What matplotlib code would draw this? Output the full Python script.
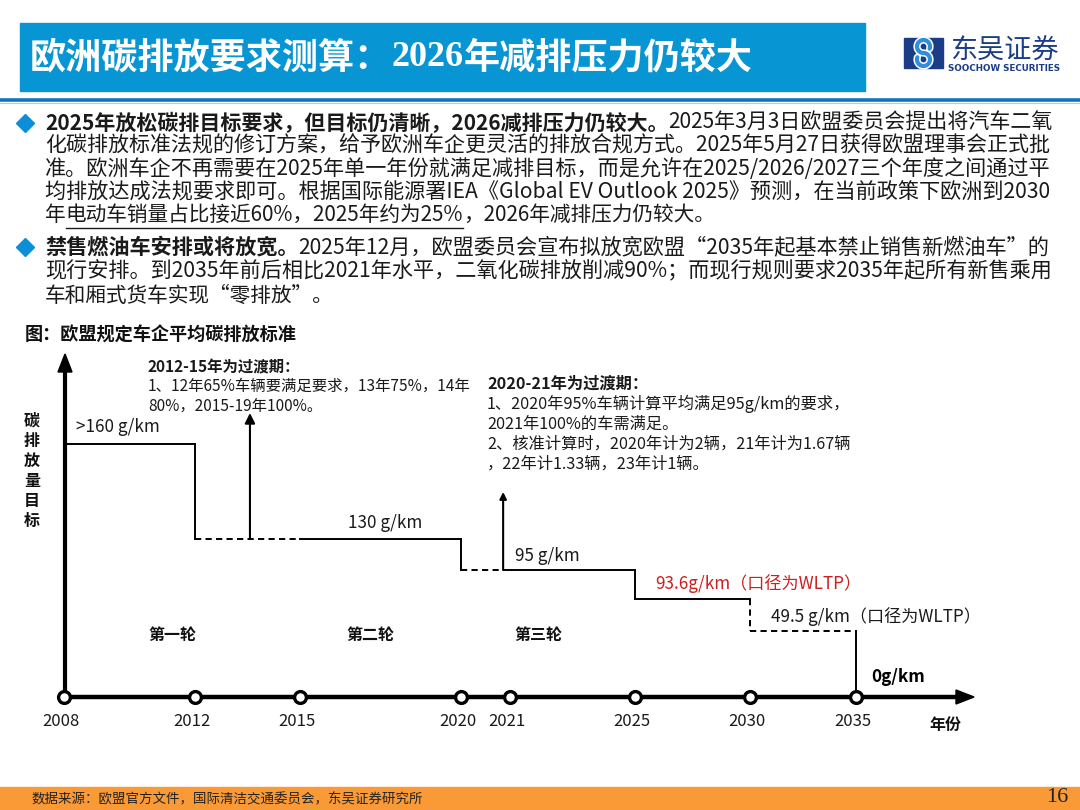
import numpy as np
import matplotlib
matplotlib.use('Agg')
import matplotlib.pyplot as plt
from matplotlib.patches import Rectangle, Polygon

plt.rcParams['font.family'] = ['Noto Sans CJK SC', 'DejaVu Sans']
plt.rcParams['axes.unicode_minus'] = False

# ---------------- data ----------------
milestone_years = [2008, 2012, 2015, 2020, 2021, 2025, 2030, 2035]

# horizontal step segments of the EU fleet-average CO2 target (g/km)
seg_start = [2008, 2012, 2015, 2020, 2021, 2025, 2030]
seg_end = [2012, 2015, 2020, 2021, 2025, 2030, 2035]
seg_level = [160, 130, 130, 95, 95, 93.6, 49.5]
seg_dashed = [False, True, False, True, False, False, True]

# vertical drops between levels
drop_year = [2012, 2020, 2025, 2030, 2035]
drop_from = [160, 130, 95, 93.6, 49.5]
drop_to = [130, 95, 93.6, 49.5, 0]
drop_dashed = [False, False, False, True, False]

level_labels = ['>160 g/km', '130 g/km', '95 g/km',
                '93.6g/km（口径为WLTP）', '49.5 g/km（口径为WLTP）', '0g/km']
label_years = [2008, 2015, 2021, 2025, 2030, 2035]
label_values = [160, 130, 95, 93.6, 49.5, 0]
label_colors = ['#1a1a1a', '#1a1a1a', '#1a1a1a', '#CC1F1F', '#1a1a1a', '#000000']
label_bold = [False, False, False, False, False, True]

transition_years = [2013.57, 2020.86]
transition_base = [130, 95]

round_labels = ['第一轮', '第二轮', '第三轮']

title = ['欧洲碳排放要求测算：', '2026', '年减排压力仍较大']

body_lines = [
    [('2025年放松碳排目标要求，但目标仍清晰，2026减排压力仍较大。', True, False),
     ('2025年3月3日欧盟委员会提出将汽车二氧', False, False)],
    [('化碳排放标准法规的修订方案，给予欧洲车企更灵活的排放合规方式。2025年5月27日获得欧盟理事会正式批', False, False)],
    [('准。欧洲车企不再需要在2025年单一年份就满足减排目标，而是允许在2025/2026/2027三个年度之间通过平', False, False)],
    [('均排放达成法规要求即可。根据国际能源署IEA《Global EV Outlook 2025》预测，在当前政策下欧洲到2030', False, False)],
    [('年', False, False), ('电动车销量占比接近60%，2025年约为25%', False, True),
     ('，2026年减排压力仍较大。', False, False)],
    [('禁售燃油车安排或将放宽。', True, False),
     ('2025年12月，欧盟委员会宣布拟放宽欧盟“2035年起基本禁止销售新燃油车”的', False, False)],
    [('现行安排。到2035年前后相比2021年水平，二氧化碳排放削减90%；而现行规则要求2035年起所有新售乘用', False, False)],
    [('车和厢式货车实现“零排放”。', False, False)],
]
body_full = [True, True, True, True, False, True, True, False]

note1 = ['2012-15年为过渡期：', '1、12年65%车辆要满足要求，13年75%，14年', '80%，2015-19年100%。']
note2 = ['2020-21年为过渡期：', '1、2020年95%车辆计算平均满足95g/km的要求，',
         '2021年100%的车需满足。', '2、核准计算时，2020年计为2辆，21年计为1.67辆',
         '，22年计1.33辆，23年计1辆。']

subtitle = '图：欧盟规定车企平均碳排放标准'
ylabel = '碳排放量目标'
xlabel = '年份'
source = '数据来源：欧盟官方文件，国际清洁交通委员会，东吴证券研究所'
page_no = '16'

# ---------------- schematic scale (layout, pixels) ----------------
x_anchor_px = [64, 195, 300, 461, 510, 635, 750, 856]
y_anchor_vals = [0, 49.5, 93.6, 95, 130, 160]
y_anchor_px = [113, 179, 211, 240, 271, 366]   # height above figure bottom


def piecewise(xp, fp):
    xp = np.asarray(xp, float)
    fp = np.asarray(fp, float)
    s0 = (fp[1] - fp[0]) / (xp[1] - xp[0])
    s1 = (fp[-1] - fp[-2]) / (xp[-1] - xp[-2])

    def f(x):
        x = np.asarray(x, float)
        y = np.interp(x, xp, fp)
        y = np.where(x < xp[0], fp[0] + (x - xp[0]) * s0, y)
        y = np.where(x > xp[-1], fp[-1] + (x - xp[-1]) * s1, y)
        return y
    return f


fx, fx_inv = piecewise(milestone_years, x_anchor_px), piecewise(x_anchor_px, milestone_years)
fy, fy_inv = piecewise(y_anchor_vals, y_anchor_px), piecewise(y_anchor_px, y_anchor_vals)

W, H = 1080, 810
fig = plt.figure(figsize=(10.8, 8.1), dpi=100)
fig.patch.set_facecolor('white')

# overlay axes in pixel coordinates
ax0 = fig.add_axes([0, 0, 1, 1])
ax0.set_xlim(0, W)
ax0.set_ylim(H, 0)
ax0.axis('off')
renderer = fig.canvas.get_renderer()

# header bar
ax0.add_patch(Rectangle((20, 23), 845, 68, color='#0895D4', zorder=1))
x = 30
for i, piece in enumerate(title):
    fam = ['Liberation Serif'] if i == 1 else ['Noto Sans CJK SC', 'DejaVu Sans']
    t = ax0.text(x, 58, piece, color='white', fontsize=26.0, fontweight='bold',
                 family=fam, va='center', ha='left', zorder=3)
    x += t.get_window_extent(renderer).width

# header rule
ax0.plot([0, W], [100, 100], color='#1173C2', lw=2.6, solid_capstyle='butt', zorder=2)
ax0.plot([0, W], [103, 103], color='#A9CCEB', lw=0.8, zorder=2)

# logo
ax0.add_patch(Rectangle((904, 38), 39, 30, color='#1B3C86', zorder=2))
a1 = np.radians(np.linspace(-20, 270, 40))
a2 = np.radians(np.linspace(90, -200, 40))
sx = np.concatenate([923.5 + 6.5 * np.cos(a1), 923.5 + 6.5 * np.cos(a2)])
sy = np.concatenate([46.5 - 6.5 * np.sin(a1), 59.5 - 6.5 * np.sin(a2)])
ax0.plot(sx, sy, color='white', lw=5.2, solid_capstyle='round', zorder=3)
ax0.plot(sx, sy, color='#2F8FDA', lw=3.0, solid_capstyle='round', zorder=4)
ax0.text(1004, 51, '东吴证券', color='#1B3C86', fontsize=19.5, ha='center', va='center', zorder=3)
ax0.text(1004, 68.5, 'SOOCHOW SECURITIES', color='#1B3C86', fontsize=6.3, fontweight='bold',
         family=['DejaVu Sans'], ha='center', va='center', zorder=3)


def runs_width(runs, size):
    total = 0.0
    for txt, bold, _ in runs:
        t = ax0.text(0, 0, txt, fontsize=size, fontweight='bold' if bold else 'normal')
        total += t.get_window_extent(renderer).width
        t.remove()
    return total


# bullets / body text
body_y = [123, 146, 169, 192, 215, 247, 271, 296]
body_size = 14.9
text_left, text_right = 45, 1048
for yy in (body_y[0], body_y[5]):
    ax0.plot(25, yy, marker='D', ms=9, color='#0A8FD8', zorder=3)
for yy, runs, full in zip(body_y, body_lines, body_full):
    size = body_size
    if full:
        size = body_size * (text_right - text_left) / runs_width(runs, body_size)
    x = text_left
    for txt, bold, under in runs:
        t = ax0.text(x, yy, txt, fontsize=size, fontweight='bold' if bold else 'normal',
                     color='#1a1a1a', va='center', ha='left', zorder=3)
        w = t.get_window_extent(renderer).width
        if under:
            ax0.plot([x, x + w], [yy + 13, yy + 13], color='#1a1a1a', lw=1.0, zorder=3)
        x += w

# chart subtitle and axis labels
ax0.text(25, 335, subtitle, fontsize=13.1, fontweight='bold', color='#111111', va='center', ha='left')
for i, ch in enumerate(ylabel):
    ax0.text(32, 421 + 20 * i, ch, fontsize=11.5, fontweight='bold', color='#111111',
             va='center', ha='center')
ax0.text(945, 725, xlabel, fontsize=11.5, fontweight='bold', color='#111111', va='center', ha='center')

# chart axes lines (layout)
ax0.plot([65, 65], [697, 368], color='black', lw=3.0, solid_capstyle='butt', zorder=4)
ax0.add_patch(Polygon([[65, 354], [58, 372], [72, 372]], closed=True, color='black', zorder=4))
ax0.plot([62, 958], [697, 697], color='black', lw=3.2, solid_capstyle='butt', zorder=4)
ax0.add_patch(Polygon([[974, 697], [956, 690], [956, 704]], closed=True, color='black', zorder=4))

# notes
for i, line in enumerate(note1):
    ax0.text(148, 367 + 19.5 * i, line, fontsize=11.1, fontweight='bold' if i == 0 else 'normal',
             color='#1a1a1a', va='center', ha='left')
for i, line in enumerate(note2):
    ax0.text(487, 384 + 20 * i, line, fontsize=11.7, fontweight='bold' if i == 0 else 'normal',
             color='#1a1a1a', va='center', ha='left')

# round labels
for lab, px in zip(round_labels, [172, 370, 538]):
    ax0.text(px, 635, lab, fontsize=11.5, fontweight='bold', color='#111111', va='center', ha='center')

# footer
ax0.add_patch(Rectangle((0, 787), W, 23, color='#FA9A37', zorder=1))
ax0.text(32, 799.5, source, fontsize=9.7, color='#222222', va='center', ha='left', zorder=3)
ax0.text(1057, 798, page_no, fontsize=16, family=['Liberation Serif'], color='#222222',
         va='center', ha='center', zorder=3)

# ---------------- data axes with schematic function scales ----------------
ax = fig.add_axes([0, 0, 1, 1])
ax.patch.set_alpha(0)
ax.set_xscale('function', functions=(fx, fx_inv))
ax.set_yscale('function', functions=(fy, fy_inv))
ax.set_xlim(float(fx_inv(0)), float(fx_inv(W)))
ax.set_ylim(float(fy_inv(0)), float(fy_inv(H)))
ax.axis('off')

step_lw = 1.4
for s, e, lv, d in zip(seg_start, seg_end, seg_level, seg_dashed):
    ax.plot([s, e], [lv, lv], color='black', lw=step_lw,
            linestyle=(0, (3.2, 2.2)) if d else '-', zorder=3)
for yr, a, b, d in zip(drop_year, drop_from, drop_to, drop_dashed):
    ax.plot([yr, yr], [a, b], color='black', lw=step_lw,
            linestyle=(0, (3.2, 2.2)) if d else '-', zorder=3)

# transition-period arrows
for yr, base, rise, ms in zip(transition_years, transition_base, [126, 78], [15, 10]):
    ax.annotate('', xy=(yr, base), xycoords='data', xytext=(0, rise), textcoords='offset pixels',
                arrowprops=dict(arrowstyle='<|-', color='black', lw=1.5,
                                mutation_scale=ms, shrinkA=0, shrinkB=0), zorder=3)

# level labels
label_offsets = [(12, 17), (48, 16), (5, 14), (20, 15), (21, 14), (15, 20)]
for lab, yr, v, c, b, off in zip(level_labels, label_years, label_values, label_colors,
                                 label_bold, label_offsets):
    ax.annotate(lab, xy=(yr, v), xycoords='data', xytext=off, textcoords='offset pixels',
                fontsize=12.3, color=c, fontweight='bold' if b else 'normal',
                ha='left', va='center')

# milestone markers and year labels
ax.plot(milestone_years, [0] * len(milestone_years), linestyle='none', marker='o', ms=8.5,
        mfc='white', mec='black', mew=2.4, zorder=6, clip_on=False)
for yr in milestone_years:
    ax.annotate(str(yr), xy=(yr, 0), xycoords='data', xytext=(-3, -24), textcoords='offset pixels',
                fontsize=12, color='#1a1a1a', ha='center', va='center')

fig.savefig('out.png', dpi=100, facecolor='white')
